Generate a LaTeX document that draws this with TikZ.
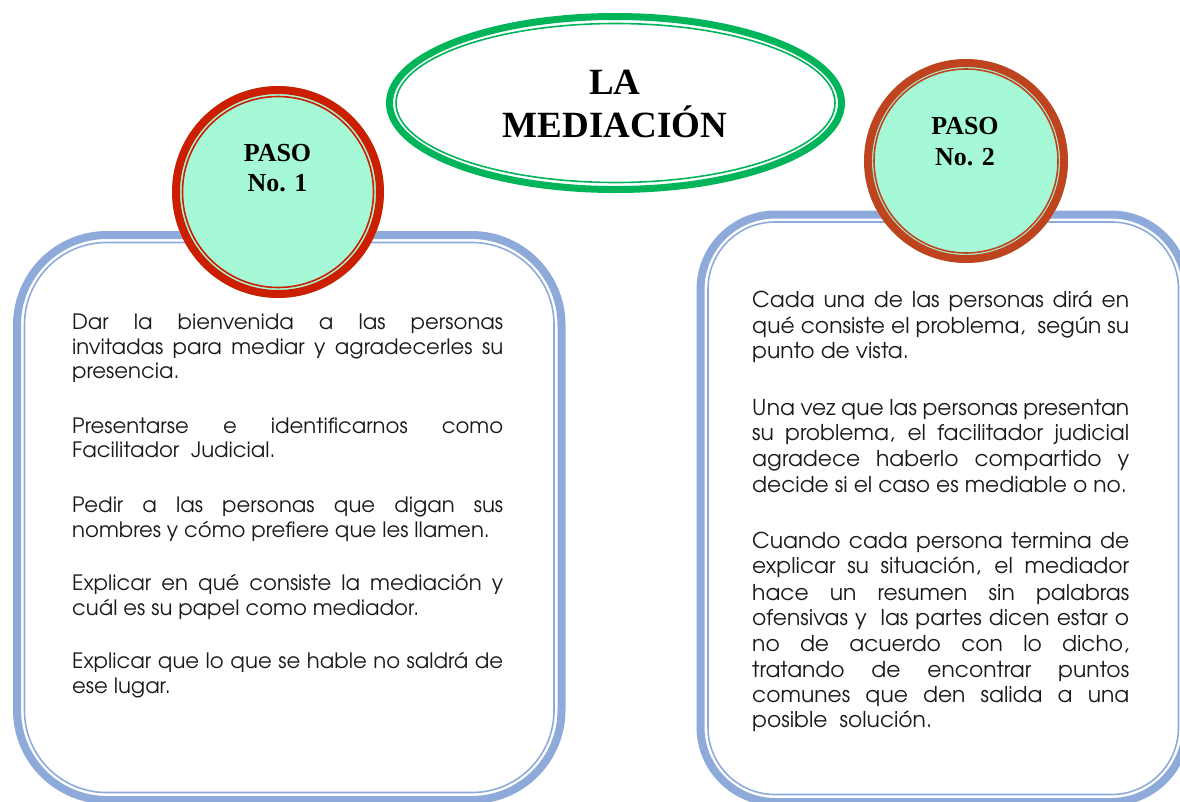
\documentclass[tikz,border=0pt]{standalone}
\usepackage{fontspec}
\setmainfont{Liberation Serif}
\newfontfamily\gothic{texgyreadventor-regular.otf}
\definecolor{boxblue}{RGB}{142,170,219}
\definecolor{ringred}{RGB}{204,30,0}
\definecolor{ringorange}{RGB}{192,67,31}
\definecolor{mint}{RGB}{166,249,214}
\definecolor{ovalgreen}{RGB}{0,180,90}
\definecolor{ink}{RGB}{26,26,26}
\begin{document}
\begin{tikzpicture}[x=1pt,y=-1pt,
  band/.style={line width=8pt},
  thinline/.style={line width=1.6pt},
  titletext/.style={anchor=base, inner sep=0pt, font=\bfseries\fontsize{37}{43}\selectfont, text=black},
  pasotext/.style={anchor=base, inner sep=0pt, font=\bfseries\fontsize{26}{30}\selectfont, text=black},
  bodyL/.style={anchor=base west, inner sep=0pt, font=\gothic\fontsize{21.2}{24.5}\selectfont, text=ink},
  bodyR/.style={anchor=base west, inner sep=0pt, font=\gothic\fontsize{21.8}{25.7}\selectfont, text=ink}]
\useasboundingbox (0,0) rectangle (1180,801);
\clip (0,0) rectangle (1180,801);
% boxes
\draw[boxblue, band, rounded corners=90pt] (17,235) rectangle (561.5,800);
\draw[boxblue, thinline, rounded corners=82pt] (24.5,242.5) rectangle (554,792.5);
\draw[boxblue, band, rounded corners=75pt] (700.5,214.5) rectangle (1186,802);
\draw[boxblue, thinline, rounded corners=67pt] (708,222) rectangle (1178.5,794.5);
% circles
\fill[mint] (278,192) circle[radius=106pt];
\draw[ringred, band] (278,192) circle[radius=102pt];
\draw[ringred, thinline] (278,192) circle[radius=95.5pt];
\fill[mint] (966,161) circle[radius=102pt];
\draw[ringorange, band] (966,161) circle[radius=98pt];
\draw[ringorange, thinline] (966,161) circle[radius=92pt];
% title oval
\draw[ovalgreen, line width=7pt] (615.5,103) ellipse[x radius=226pt, y radius=86.5pt];
\draw[ovalgreen, thinline] (615.5,103) ellipse[x radius=219.5pt, y radius=79.5pt];
\node[titletext] (t1) at (615,94) {LA};
\node[titletext] (t2) at (615,137) {MEDIACIÓN};
\node[pasotext] (p1a) at (277.5,161) {PASO};
\node[pasotext] (p1b) at (277.5,191) {No. 1};
\node[pasotext] (p2a) at (965,134) {PASO};
\node[pasotext] (p2b) at (965,165) {No. 2};
% left text
\def\wl{431pt}
\node[bodyL] (l1) at (72,329) {\makebox[\wl][s]{Dar la bienvenida a las personas}};
\node[bodyL] (l2) at (72,354) {\makebox[\wl][s]{invitadas para mediar y agradecerles su}};
\node[bodyL] (l3) at (72,378) {presencia.};
\node[bodyL] (l4) at (72,433) {\makebox[\wl][s]{Presentarse e identificarnos como}};
\node[bodyL] (l5) at (72,457) {Facilitador\ \ Judicial.};
\node[bodyL] (l6) at (72,512) {\makebox[\wl][s]{Pedir a las personas que digan sus}};
\node[bodyL] (l7) at (72,537) {nombres y cómo prefiere que les llamen.};
\node[bodyL] (l8) at (72,590) {\makebox[\wl][s]{Explicar en qué consiste la mediación y}};
\node[bodyL] (l9) at (72,615) {cuál es su papel como mediador.};
\node[bodyL] (l10) at (72,668) {\makebox[\wl][s]{Explicar que lo que se hable no saldrá de}};
\node[bodyL] (l11) at (72,693) {ese lugar.};
% right text
\def\wr{377pt}
\node[bodyR] (r1) at (752,307) {\makebox[\wr][s]{Cada una de las personas dirá en}};
\node[bodyR] (r2) at (752,333) {\makebox[\wr][s]{qué consiste el problema,\ \ según su}};
\node[bodyR] (r3) at (752,358) {punto de vista.};
\node[bodyR] (r4) at (752,415) {\makebox[\wr][s]{Una vez que las personas presentan}};
\node[bodyR] (r5) at (752,440) {\makebox[\wr][s]{su problema, el facilitador judicial}};
\node[bodyR] (r6) at (752,466) {\makebox[\wr][s]{agradece haberlo compartido y}};
\node[bodyR] (r7) at (752,492) {decide si el caso es mediable o no.};
\node[bodyR] (r8) at (752,548) {\makebox[\wr][s]{Cuando cada persona termina de}};
\node[bodyR] (r9) at (752,573) {\makebox[\wr][s]{explicar su situación, el mediador}};
\node[bodyR] (r10) at (752,600) {\makebox[\wr][s]{hace un resumen sin palabras}};
\node[bodyR] (r11) at (752,625) {\makebox[\wr][s]{ofensivas y\ \ las partes dicen estar o}};
\node[bodyR] (r12) at (752,651) {\makebox[\wr][s]{no de acuerdo con lo dicho,}};
\node[bodyR] (r13) at (752,677) {\makebox[\wr][s]{tratando de encontrar puntos}};
\node[bodyR] (r14) at (752,702) {\makebox[\wr][s]{comunes que den salida a una}};
\node[bodyR] (r15) at (752,727) {posible\ \ solución.};
\end{tikzpicture}
\end{document}
